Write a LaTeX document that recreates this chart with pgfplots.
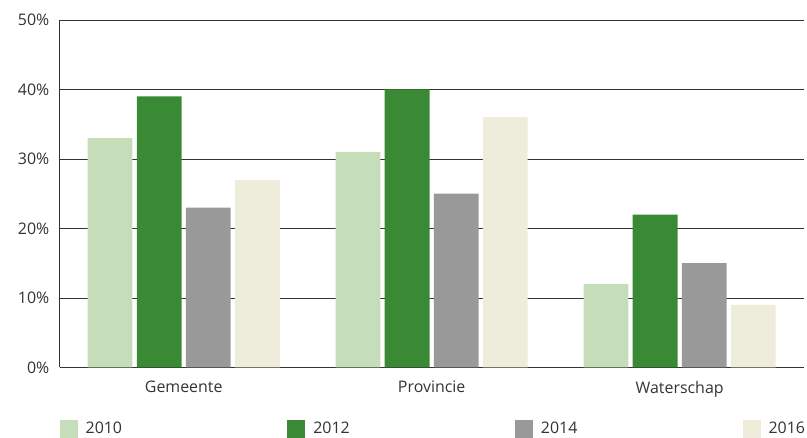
\documentclass[border=0pt]{standalone}
\usepackage{fontspec}
\setmainfont{Open Sans}
\usepackage{pgfplots}
\pgfplotsset{compat=1.18}
\definecolor{cA}{HTML}{C5DDB9}
\definecolor{cB}{HTML}{3A8A35}
\definecolor{cC}{HTML}{999999}
\definecolor{cD}{HTML}{EEEDDC}
\definecolor{txt}{HTML}{333333}
\begin{document}
\fontsize{16pt}{19pt}\selectfont
\begin{tikzpicture}
\begin{axis}[
  scale only axis,
  width=747pt, height=349pt,
  ymin=0, ymax=50,
  xmin=-0.5, xmax=2.5,
  xtick=data,
  xticklabels={Gemeente,Provincie,Waterschap},
  ytick={0,10,...,50},
  yticklabel={\pgfmathprintnumber{\tick}\%},
  /pgf/number format/assume math mode=true,
  ymajorgrids,
  grid style={black!80, line width=0.8pt},
  axis x line*=bottom,
  axis y line*=left,
  axis line style={black!80, line width=0.8pt},
  major tick length=0pt,
  tick label style={font=\fontsize{16pt}{19pt}\selectfont, text=txt},
  xticklabel style={yshift=-8pt},
  yticklabel style={xshift=-5pt},
  ybar=4.3pt,
  bar width=45pt,
  legend columns=4,
  legend style={at={(0,-0.176)}, anchor=west, draw=none, font=\fontsize{16pt}{19pt}\selectfont, text=txt,
    /tikz/every even column/.append style={column sep=164pt},
    /tikz/every odd column/.append style={column sep=6pt},
    inner sep=0pt, outer sep=0pt},
  legend image code/.code={\fill[#1] (0pt,-9pt) rectangle (18pt,9pt);},
]
\addplot[fill=cA, draw=none] coordinates {(0,33) (1,31) (2,12)};
\addplot[fill=cB, draw=none] coordinates {(0,39) (1,40) (2,22)};
\addplot[fill=cC, draw=none] coordinates {(0,23) (1,25) (2,15)};
\addplot[fill=cD, draw=none] coordinates {(0,27) (1,36) (2,9)};
\legend{2010,2012,2014,2016}
\end{axis}
\path ([xshift=-60pt,yshift=-68pt]current axis.south west) rectangle ([yshift=20pt]current axis.north east);
\end{tikzpicture}
\end{document}
